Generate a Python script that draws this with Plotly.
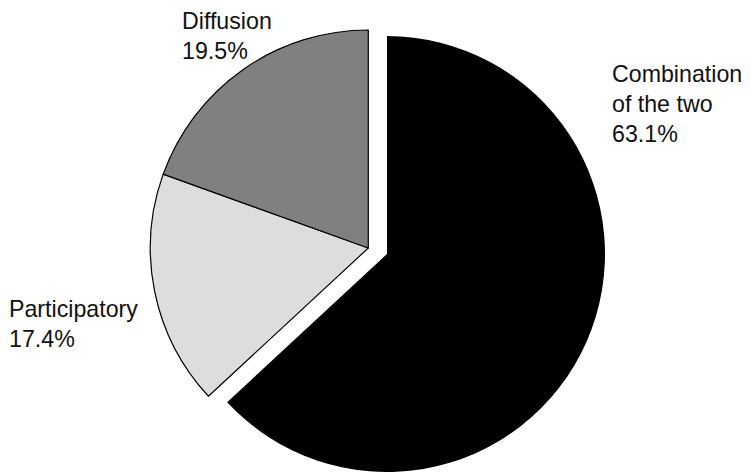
import plotly.graph_objects as go

labels = ["Combination of the two", "Participatory", "Diffusion"]
label_text = ["Combination<br>of the two<br>63.1%", "Participatory<br>17.4%", "Diffusion<br>19.5%"]
values = [63.1, 17.4, 19.5]
colors = ["#000000", "#dddddd", "#808080"]

# page has an 8px body margin; figure coordinates = page coordinates - 8
OFF = 8
W, H = 751 - OFF, 472 - OFF

def dom(cx, cy, r):
    cx -= OFF
    cy -= OFF
    y0 = max(0.0, (H - (cy + r)) / H)
    return dict(x=[(cx - r) / W, (cx + r) / W], y=[y0, (H - (cy - r)) / H])

fig = go.Figure()
# base pie (black slice hidden; drawn pulled out by second trace)
fig.add_trace(go.Pie(
    labels=labels, values=values, sort=False, direction="clockwise", rotation=0,
    marker=dict(colors=["rgba(0,0,0,0)", colors[1], colors[2]],
                line=dict(color=["rgba(0,0,0,0)", "#000000", "#000000"], width=1.2)),
    textinfo="none", hoverinfo="label+percent", showlegend=False,
    domain=dom(368.3, 248, 218),
))
# pulled-out black slice
fig.add_trace(go.Pie(
    labels=labels, values=values, sort=False, direction="clockwise", rotation=0,
    marker=dict(colors=[colors[0], "rgba(0,0,0,0)", "rgba(0,0,0,0)"],
                line=dict(width=0)),
    textinfo="none", hoverinfo="label+percent", showlegend=False,
    domain=dom(387, 254, 218),
))

label_pos = [(610, 59), (7, 294), (180, 6)]
for txt, (px, py) in zip(label_text, label_pos):
    fig.add_annotation(text=txt, x=(px - OFF) / W, y=1 - (py - OFF) / H, xref="paper", yref="paper",
                       xanchor="left", yanchor="top", align="left", showarrow=False,
                       font=dict(family="Liberation Sans, Arial, sans-serif", size=23.2, color="#111111"))

fig.update_layout(width=W, height=H, margin=dict(l=0, r=0, t=0, b=0),
                  paper_bgcolor="white", plot_bgcolor="white", showlegend=False)
fig.write_html("out.html",
               post_script="document.documentElement.style.overflow='hidden';document.body.style.overflow='hidden';")
